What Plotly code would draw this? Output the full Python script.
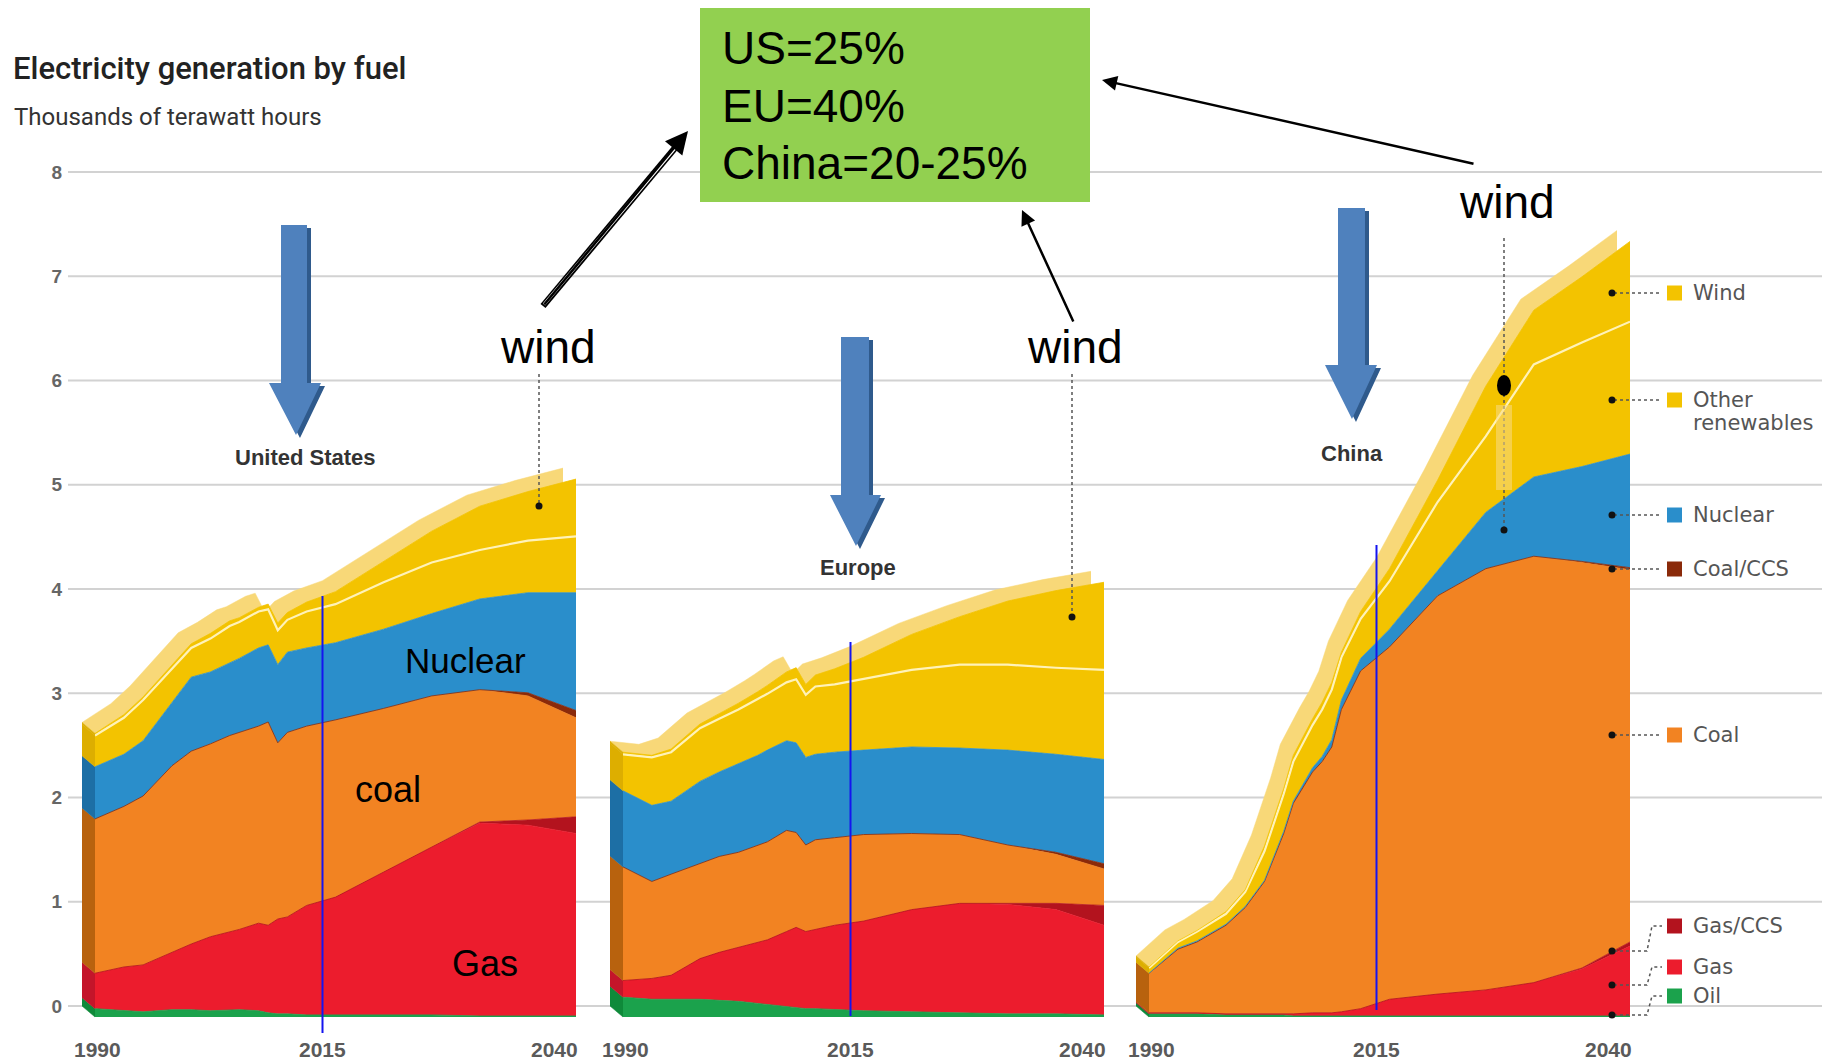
import numpy as np
import plotly.graph_objects as go

# ---------------------------------------------------------------------------
# Data: electricity generation by fuel, thousands of terawatt hours
# ---------------------------------------------------------------------------
YEARS = [1990, 1993, 1995, 1998, 2000, 2002, 2004, 2005, 2007, 2008, 2009,
         2010, 2012, 2015, 2020, 2025, 2030, 2035, 2040]

FUELS = ["Oil", "Gas", "Gas/CCS", "Coal", "Coal/CCS", "Nuclear",
         "Other renewables", "Wind"]

us_oil = [0.08, 0.06, 0.05, 0.07, 0.07, 0.06, 0.07, 0.07, 0.06, 0.04, 0.03,
          0.03, 0.02, 0.02, 0.02, 0.02, 0.01, 0.01, 0.01]
us_gas = [0.34, 0.42, 0.45, 0.55, 0.63, 0.71, 0.75, 0.77, 0.84, 0.84, 0.91,
          0.93, 1.05, 1.13, 1.37, 1.61, 1.85, 1.83, 1.75]
us_gas_ccs = [0, 0, 0, 0, 0, 0, 0, 0, 0, 0, 0,
              0, 0, 0, 0, 0, 0.01, 0.05, 0.16]
us_coal = [1.48, 1.54, 1.62, 1.79, 1.85, 1.85, 1.88, 1.89, 1.89, 1.95, 1.69,
           1.77, 1.72, 1.70, 1.57, 1.45, 1.27, 1.19, 0.95]
us_coal_ccs = [0, 0, 0, 0, 0, 0, 0, 0, 0, 0, 0,
               0, 0, 0, 0, 0, 0, 0.03, 0.07]
us_nuclear = [0.50, 0.50, 0.53, 0.61, 0.71, 0.69, 0.70, 0.71, 0.75, 0.74, 0.75,
              0.77, 0.75, 0.74, 0.76, 0.79, 0.87, 0.96, 1.13]
us_other_ren = [0.30, 0.35, 0.39, 0.32, 0.28, 0.32, 0.35, 0.35, 0.35, 0.34, 0.33,
                0.31, 0.35, 0.37, 0.45, 0.49, 0.47, 0.50, 0.54]
us_wind = [0.02, 0.03, 0.03, 0.04, 0.04, 0.05, 0.05, 0.04, 0.04, 0.05, 0.07,
           0.07, 0.09, 0.12, 0.20, 0.30, 0.42, 0.47, 0.55]

eu_oil = [0.19, 0.17, 0.17, 0.17, 0.16, 0.15, 0.13, 0.12, 0.10, 0.09, 0.08,
          0.08, 0.07, 0.06, 0.05, 0.04, 0.03, 0.03, 0.02]
eu_gas = [0.16, 0.20, 0.23, 0.39, 0.46, 0.52, 0.59, 0.62, 0.72, 0.77, 0.74,
          0.76, 0.81, 0.86, 0.98, 1.05, 1.05, 1.00, 0.86]
eu_gas_ccs = [0, 0, 0, 0, 0, 0, 0, 0, 0, 0, 0,
              0, 0, 0, 0, 0, 0.01, 0.06, 0.19]
eu_coal = [1.09, 0.93, 0.97, 0.91, 0.92, 0.91, 0.93, 0.94, 0.97, 0.91, 0.83,
           0.86, 0.84, 0.83, 0.73, 0.66, 0.56, 0.47, 0.35]
eu_coal_ccs = [0, 0, 0, 0, 0, 0, 0, 0, 0, 0, 0,
               0, 0, 0, 0, 0, 0, 0.02, 0.05]
eu_nuclear = [0.73, 0.73, 0.70, 0.79, 0.81, 0.85, 0.86, 0.88, 0.86, 0.86, 0.84,
              0.82, 0.82, 0.81, 0.83, 0.83, 0.91, 0.94, 1.00]
eu_other_ren = [0.35, 0.46, 0.47, 0.51, 0.51, 0.52, 0.54, 0.54, 0.56, 0.61, 0.60,
                0.65, 0.65, 0.68, 0.74, 0.80, 0.82, 0.83, 0.86]
eu_wind = [0.02, 0.02, 0.03, 0.04, 0.05, 0.06, 0.07, 0.08, 0.10, 0.11, 0.10,
           0.11, 0.15, 0.21, 0.34, 0.46, 0.61, 0.74, 0.84]

cn_oil = [0.03, 0.03, 0.03, 0.02, 0.02, 0.02, 0.02, 0.01, 0.01, 0.01, 0.01,
          0.01, 0.01, 0.01, 0.01, 0.01, 0.01, 0.01, 0.01]
cn_gas = [0.01, 0.01, 0.01, 0.01, 0.01, 0.01, 0.01, 0.02, 0.03, 0.03, 0.03,
          0.04, 0.07, 0.16, 0.21, 0.25, 0.32, 0.45, 0.67]
cn_gas_ccs = [0, 0, 0, 0, 0, 0, 0, 0, 0, 0, 0,
              0, 0, 0, 0, 0, 0, 0.01, 0.04]
cn_coal = [0.38, 0.61, 0.68, 0.85, 1.02, 1.27, 1.73, 2.02, 2.31, 2.41, 2.55,
           2.90, 3.24, 3.38, 3.82, 4.04, 4.09, 3.89, 3.57]
cn_coal_ccs = [0, 0, 0, 0, 0, 0, 0, 0, 0, 0, 0,
               0, 0, 0, 0, 0, 0, 0.01, 0.02]
cn_nuclear = [0.00, 0.01, 0.01, 0.01, 0.01, 0.01, 0.02, 0.02, 0.04, 0.05, 0.07,
              0.09, 0.12, 0.17, 0.24, 0.54, 0.76, 0.91, 1.09]
cn_other_ren = [0.05, 0.06, 0.09, 0.10, 0.14, 0.28, 0.36, 0.38, 0.41, 0.45, 0.48,
                0.41, 0.38, 0.46, 0.66, 0.73, 1.08, 1.19, 1.27]
cn_wind = [0.01, 0.01, 0.01, 0.02, 0.02, 0.05, 0.05, 0.06, 0.06, 0.07, 0.07,
           0.05, 0.07, 0.12, 0.21, 0.48, 0.52, 0.63, 0.77]

REGIONS = ["United States", "Europe", "China"]
TICK_YEARS = [1990, 2015, 2040]
Y_TICKS = [0, 1, 2, 3, 4, 5, 6, 7, 8]
SHARE_LINES = ["US=25%", "EU=40%", "China=20-25%"]

PANELS = [
    [us_oil, us_gas, us_gas_ccs, us_coal, us_coal_ccs, us_nuclear, us_other_ren, us_wind],
    [eu_oil, eu_gas, eu_gas_ccs, eu_coal, eu_coal_ccs, eu_nuclear, eu_other_ren, eu_wind],
    [cn_oil, cn_gas, cn_gas_ccs, cn_coal, cn_coal_ccs, cn_nuclear, cn_other_ren, cn_wind],
]

# ---------------------------------------------------------------------------
# Styling
# ---------------------------------------------------------------------------
FRONT = {"Oil": "#1BA24C", "Gas": "#EC1C2D", "Gas/CCS": "#B3131E",
         "Coal": "#F28322", "Coal/CCS": "#8A2A0A", "Nuclear": "#2A8ECB",
         "Other renewables": "#F3C300", "Wind": "#F3C300"}
SIDE = {"Oil": "#0F8A3A", "Gas": "#C4152A", "Gas/CCS": "#8F0D14",
        "Coal": "#B8620E", "Coal/CCS": "#6B2208", "Nuclear": "#1D6FA5",
        "Other renewables": "#DDAE00", "Wind": "#DDAE00"}
TOP_FACE = "#F8D878"
FONT = "Liberation Sans, Arial, sans-serif"
HEAD_FONT = "Roboto, Liberation Sans, Arial, sans-serif"
KEY_FONT = "DejaVu Sans, Liberation Sans, sans-serif"

W, H = 1831, 1064
PPU = 104.25            # pixels per thousand TWh
ZERO_PY = 1006          # pixel row of the zero gridline
DEPTH_X, DEPTH_Y = 13, 11   # 3-D extrusion depth, pixels
FRONT_LEFT = [95, 623, 1149]
PANEL_W = 481


def fx(px):
    return px / W


def fy(py):
    return 1 - py / H


years = np.array(YEARS, dtype=float)
yr_px = PANEL_W / (years[-1] - years[0])
DXY = DEPTH_X / yr_px
DYV = DEPTH_Y / PPU

fig = go.Figure()

for p, layers in enumerate(PANELS):
    vals = np.array(layers, dtype=float)
    cum = np.cumsum(vals, axis=0)
    top = cum[-1]
    back_x = "x" if p == 0 else f"x{p + 1}"
    front_x = f"x{p + 4}"

    # top face of the extruded stack
    fig.add_trace(go.Scatter(
        x=np.concatenate([years + DXY, years[::-1]]),
        y=np.concatenate([top - DYV, top[::-1]]),
        fill="toself", fillcolor=TOP_FACE, mode="lines",
        line=dict(width=0.5, color=TOP_FACE),
        xaxis=back_x, yaxis="y", hoverinfo="skip", showlegend=False))

    # left side face, one band per fuel
    x0 = years[0]
    lo = 0.0
    for i, fuel in enumerate(FUELS):
        hi = cum[i, 0]
        if hi - lo > 1e-6:
            fig.add_trace(go.Scatter(
                x=[x0, x0, x0 + DXY, x0 + DXY, x0],
                y=[lo, hi, hi - DYV, lo - DYV, lo],
                fill="toself", fillcolor=SIDE[fuel], mode="lines",
                line=dict(width=0.5, color=SIDE[fuel]),
                xaxis=back_x, yaxis="y", hoverinfo="skip", showlegend=False))
        lo = hi

    # front face: stacked areas
    for i, fuel in enumerate(FUELS):
        if fuel == "Other renewables":
            line = dict(width=2.2, color="#FFF2B8")
        else:
            line = dict(width=0.8, color=FRONT[fuel])
        fig.add_trace(go.Scatter(
            x=years, y=vals[i], stackgroup=f"s{p}", mode="lines",
            line=line, fillcolor=FRONT[fuel], name=fuel,
            xaxis=front_x, yaxis="y2", hoverinfo="skip", showlegend=False))

# ---------------------------------------------------------------------------
# Axes
# ---------------------------------------------------------------------------
axes = {}
for p in range(3):
    left = FRONT_LEFT[p]
    back_name = "xaxis" if p == 0 else f"xaxis{p + 1}"
    axes[back_name] = dict(
        domain=[fx(left - DEPTH_X), fx(left - DEPTH_X + PANEL_W)],
        range=[YEARS[0], YEARS[-1]], anchor="free", position=0,
        showticklabels=False, ticks="", showgrid=False, zeroline=False,
        showline=False, automargin=False, fixedrange=True)
    axes[f"xaxis{p + 4}"] = dict(
        domain=[fx(left), fx(left + PANEL_W)], range=[YEARS[0], YEARS[-1]],
        anchor="y2", visible=False, automargin=False, fixedrange=True)

axes["yaxis"] = dict(
    domain=[0, 1], range=[(ZERO_PY - H) / PPU, ZERO_PY / PPU],
    anchor="free", position=fx(62), tickvals=Y_TICKS, ticks="",
    showgrid=False, zeroline=False, showline=False, automargin=False,
    tickfont=dict(family=FONT, size=19, color="#666666", weight="bold"),
    fixedrange=True)
axes["yaxis2"] = dict(
    domain=[0, 1],
    range=[(ZERO_PY + DEPTH_Y - H) / PPU, (ZERO_PY + DEPTH_Y) / PPU],
    anchor="x4", visible=False, automargin=False, fixedrange=True)

shapes = []
annotations = []

# gridlines across the whole chart
for v in Y_TICKS:
    shapes.append(dict(type="line", xref="paper", yref="y", x0=fx(68), x1=fx(1822),
                       y0=v, y1=v, line=dict(color="#D2D2D2", width=2), layer="below"))


def text(s, x, y, size, color="#000000", family=FONT, xanchor="center",
         yanchor="middle", bold=False, weight=None):
    font = dict(family=family, size=size, color=color)
    if weight:
        font["weight"] = weight
    annotations.append(dict(
        text=f"<b>{s}</b>" if bold else s, x=fx(x), y=fy(y),
        xref="paper", yref="paper", showarrow=False, xanchor=xanchor,
        yanchor=yanchor, font=font))


def path(points, closed=True):
    d = "M " + " L ".join(f"{fx(a):.5f},{fy(b):.5f}" for a, b in points)
    return d + (" Z" if closed else "")


def arrow(tail, head, width=2.5, size=1.2):
    annotations.append(dict(
        x=fx(head[0]), y=fy(head[1]), ax=tail[0] - head[0], ay=tail[1] - head[1],
        xref="paper", yref="paper", axref="pixel", ayref="pixel", text="",
        showarrow=True, arrowhead=2, arrowsize=size, arrowwidth=width,
        arrowcolor="#000000", standoff=0))


# year labels under each panel: first year flush left, last year flush right
YEAR_FONT = dict(family=FONT, size=21, color="#5a5a5a")
for p in range(3):
    back_x = "x" if p == 0 else f"x{p + 1}"
    front_x = f"x{p + 4}"
    for t in TICK_YEARS:
        if t == TICK_YEARS[0]:
            ref, anchor, shift = back_x, "left", -10
        elif t == TICK_YEARS[-1]:
            ref, anchor, shift = front_x, "right", 4
        else:
            ref, anchor, shift = back_x, "center", 0
        annotations.append(dict(
            text=f"<b>{t}</b>", x=t, xref=ref, y=fy(1049), yref="paper",
            xanchor=anchor, yanchor="middle", xshift=shift, showarrow=False,
            font=YEAR_FONT))

# titles
text("Electricity generation by fuel", 11, 68, 31, "#222222", HEAD_FONT,
     xanchor="left", weight=500)
text("Thousands of terawatt hours", 12, 117, 24, "#333333", HEAD_FONT, xanchor="left")

# region names
for name, (x, y) in zip(REGIONS, [(305, 457), (858, 567), (1352, 453)]):
    text(name, x, y, 22, "#333333", bold=True)

# labels written on the US panel
text("Nuclear", 465, 660, 35)
text("coal", 388, 790, 36)
text("Gas", 485, 963, 36)

# 2015 markers
for p, (y_top, y_bot) in enumerate([(596, 1033), (642, 1016), (545, 1010)]):
    shapes.append(dict(type="line", xref="x" if p == 0 else f"x{p + 1}", yref="paper",
                       x0=2015, x1=2015, y0=fy(y_bot), y1=fy(y_top),
                       line=dict(color="#1414F0", width=2), layer="above"))

# blue block arrows pointing at each region
for (sl, sr, st, base, hl, hr, tip) in [
        (281, 307, 225, 383, 269, 321, (296, 435)),
        (841, 869, 337, 495, 830, 881, (856, 546)),
        (1338, 1365, 208, 365, 1325, 1377, (1352, 419))]:
    pts = [(sl, st), (sr, st), (sr, base), (hr, base), tip, (hl, base), (sl, base)]
    shade = [(a + 4, b + 3) for a, b in pts]
    shapes.append(dict(type="path", xref="paper", yref="paper", path=path(shade),
                       fillcolor="#2F5A8C", line=dict(width=0), layer="above"))
    shapes.append(dict(type="path", xref="paper", yref="paper", path=path(pts),
                       fillcolor="#4F81BD", line=dict(width=0), layer="above"))

# wind call-outs
for (x, y) in [(548, 347), (1075, 347), (1507, 202)]:
    text("wind", x, y, 46)
for (x, y0, y1) in [(539, 374, 506), (1072, 374, 617), (1504, 238, 530)]:
    shapes.append(dict(type="line", xref="paper", yref="paper", x0=fx(x), x1=fx(x),
                       y0=fy(y0), y1=fy(y1),
                       line=dict(color="#555555", width=1.5, dash="dot"), layer="above"))
    shapes.append(dict(type="circle", xref="paper", yref="paper",
                       x0=fx(x - 3.5), x1=fx(x + 3.5), y0=fy(y1 - 3.5), y1=fy(y1 + 3.5),
                       fillcolor="#111111", line=dict(width=0), layer="above"))
shapes.append(dict(type="rect", xref="paper", yref="paper", x0=fx(1496), x1=fx(1512),
                   y0=fy(490), y1=fy(405), fillcolor="#F8DA86", opacity=0.55,
                   line=dict(width=0), layer="above"))
shapes.append(dict(type="circle", xref="paper", yref="paper", x0=fx(1497), x1=fx(1511),
                   y0=fy(396), y1=fy(375), fillcolor="#000000",
                   line=dict(width=0), layer="above"))

# green summary box
shapes.append(dict(type="rect", xref="paper", yref="paper", x0=fx(700), x1=fx(1090),
                   y0=fy(202), y1=fy(8), fillcolor="#92D050", line=dict(width=0),
                   layer="above"))
for s, y in zip(SHARE_LINES, [48, 106, 163]):
    text(s, 720, y, 46, xanchor="left")

# arrows from the wind call-outs to the box (the first one drawn with an outlined shaft)
shapes.append(dict(type="line", xref="paper", yref="paper", x0=fx(543), y0=fy(306),
                   x1=fx(680), y1=fy(142), line=dict(color="#000000", width=6.5),
                   layer="above"))
arrow((543, 306), (688, 131), width=2.5, size=1.8)
shapes.append(dict(type="line", xref="paper", yref="paper", x0=fx(544), y0=fy(304.5),
                   x1=fx(676), y1=fy(147), line=dict(color="#FFFFFF", width=3),
                   layer="above"))
arrow((1074, 323), (1022, 210))
arrow((1475, 164), (1102, 80))

# fuel key on the right
KEY_Y = {"Wind": 293, "Other renewables": 400, "Nuclear": 515, "Coal/CCS": 569,
         "Coal": 735, "Gas/CCS": 926, "Gas": 967, "Oil": 996}
KEY_DOT_Y = {"Gas/CCS": 951, "Gas": 985, "Oil": 1015}
for fuel in reversed(FUELS):
    ky = KEY_Y[fuel]
    shapes.append(dict(type="rect", xref="paper", yref="paper", x0=fx(1667), x1=fx(1682),
                       y0=fy(ky + 7.5), y1=fy(ky - 7.5), fillcolor=FRONT[fuel],
                       line=dict(width=0), layer="above"))
    dy = KEY_DOT_Y.get(fuel, ky)
    if dy == ky:
        leader = [(1614, ky), (1662, ky)]
    else:
        leader = [(1614, dy), (1647, dy), (1652, ky), (1662, ky)]
    shapes.append(dict(type="path", xref="paper", yref="paper",
                       path=path(leader, closed=False),
                       line=dict(color="#555555", width=1.5, dash="dot"), layer="above"))
    shapes.append(dict(type="circle", xref="paper", yref="paper",
                       x0=fx(1608.5), x1=fx(1615.5), y0=fy(dy + 3.5), y1=fy(dy - 3.5),
                       fillcolor="#111111", line=dict(width=0), layer="above"))
    if fuel == "Other renewables":
        text("Other", 1691, 400, 21, "#555555", KEY_FONT, xanchor="left")
        text("renewables", 1691, 423, 21, "#555555", KEY_FONT, xanchor="left")
    else:
        text(fuel, 1691, ky, 21, "#555555", KEY_FONT, xanchor="left")

fig.update_layout(
    template="none",
    width=W, height=H, autosize=False,
    margin=dict(l=0, r=0, t=0, b=0, pad=0, autoexpand=False),
    paper_bgcolor="#FFFFFF", plot_bgcolor="rgba(0,0,0,0)",
    showlegend=False, shapes=shapes, annotations=annotations,
    **axes)

fig.write_html("out.html", config={"displayModeBar": False})
